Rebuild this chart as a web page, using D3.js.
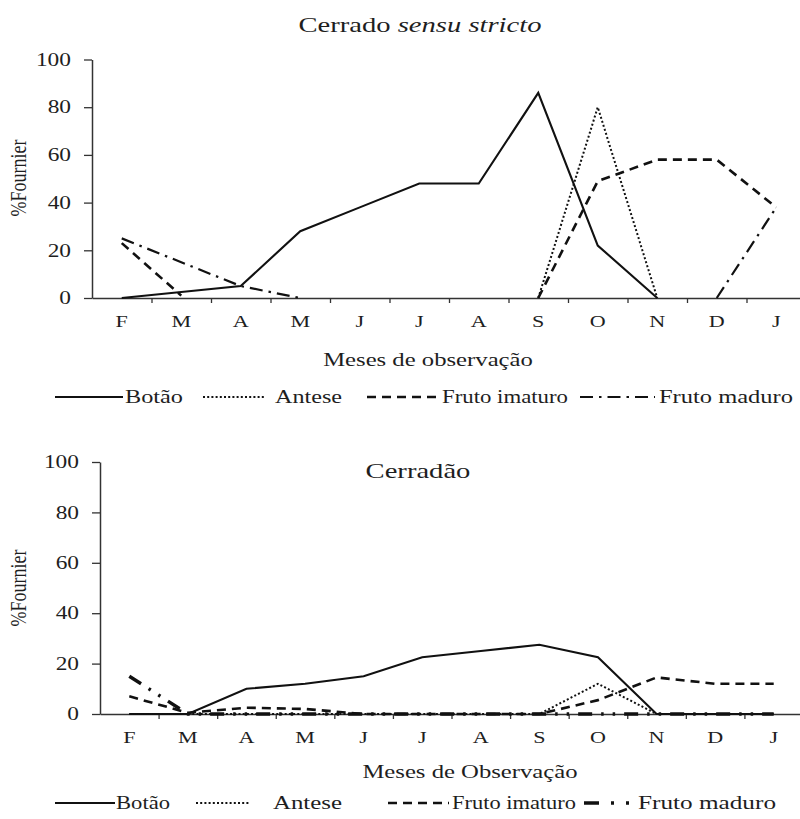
<!DOCTYPE html>
<html>
<head>
<meta charset="utf-8">
<script src="https://cdn.jsdelivr.net/npm/d3@7/dist/d3.min.js"></script>
<style>
  body { margin: 0; background: #fff; }
  text { font-family: "Liberation Serif", "Times New Roman", serif; fill: #1e1e1e; }
</style>
</head>
<body>
<svg id="chart" width="800" height="819"></svg>
<script>
// Months of observation (Feb → Jan)
const months = ["F", "M", "A", "M", "J", "J", "A", "S", "O", "N", "D", "J"];
const yTicks = [0, 20, 40, 60, 80, 100];

// Cerrado sensu stricto — % Fournier per phenophase (null = not plotted)
const ssBotao        = [0, 2.5, 5, 28, 38, 48, 48, 86, 22, 0, null, null];
const ssAntese       = [null, null, null, null, null, null, null, 0, 80, 0, null, null];
const ssFrutoImaturo = [23, 1, null, null, null, null, null, 0, 49, 58, 58, 38];
const ssFrutoMaduro  = [25, 15, 5, 0, null, null, null, null, null, null, 0, 38];

// Cerradão — % Fournier per phenophase
const cdBotao        = [0, 0, 10, 12, 15, 22.5, 25, 27.5, 22.5, 0, 0, 0];
const cdAntese       = [0, 0, 0, 0, 0, 0, 0, 0, 12, 0, 0, 0];
const cdFrutoImaturo = [7, 0.5, 2.5, 2, 0, 0, 0, 0, 5.5, 14.5, 12, 12];
const cdFrutoMaduro  = [15, 0, 0, 0, 0, 0, 0, 0, 0, 0, 0, 0];

const seriesNames = ["Botão", "Antese", "Fruto imaturo", "Fruto maduro"];

const svg = d3.select("#chart");

// the typeface is set wide: glyphs are widened horizontally about their anchor
const SX = 1.3;
function widen(sel) {
  sel.each(function () {
    const el = d3.select(this);
    const x = +el.attr("x") || 0;
    el.attr("transform", `translate(${x},0) scale(${SX},1) translate(${-x},0)`);
  });
}

// stroke styles per phenophase
const styles = {
  "Botão":         { w: 2.1, dash: null },
  "Antese":        { w: 2,   dash: "2,2.2" },
  "Fruto imaturo": { w: 2.6, dash: "9,6" },
  "Fruto maduro":  { w: 2.2, dash: "13,6,2.5,6" }
};
const maduroThick = { w: 3.4, dash: "14,9,2.5,9,2.5,9" };
const maduroThickKey = { w: 3.4, dash: "15,12,3,12,3" };

function panel(cfg) {
  const g = svg.append("g");
  const x = d3.scaleBand().domain(d3.range(months.length)).range([cfg.x0, cfg.x1]);
  const xb = d3.scaleLinear().domain([0, months.length]).range([cfg.x0, cfg.x1]);
  const y = d3.scaleLinear().domain([0, 100]).range([cfg.y0, cfg.y100]);

  // y axis
  const ya = g.append("g").attr("transform", `translate(${cfg.x0},0)`)
    .call(d3.axisLeft(y).tickValues(yTicks).tickSize(8).tickPadding(13).tickSizeOuter(0));
  ya.select(".domain").attr("stroke", "#333").attr("stroke-width", 1.5);
  ya.selectAll(".tick line").attr("stroke", "#333").attr("stroke-width", 1.3);
  ya.selectAll(".tick text").attr("font-size", 18).attr("font-family", "Liberation Serif").attr("fill", "#333")
    .call(widen);

  // x axis: ticks on month boundaries, labels centred in each month
  const xa = g.append("g").attr("transform", `translate(0,${cfg.y0})`)
    .call(d3.axisBottom(xb).tickValues(d3.range(1, months.length + 1)).tickSize(5).tickFormat("").tickSizeOuter(0));
  xa.select(".domain").attr("stroke", "#333").attr("stroke-width", 1.5);
  xa.selectAll(".tick line").attr("stroke", "#333").attr("stroke-width", 1.3);

  const xl = g.append("g").attr("transform", `translate(0,${cfg.y0})`)
    .call(d3.axisBottom(x).tickSize(0).tickPadding(cfg.labelPad).tickFormat(i => months[i]));
  xl.select(".domain").remove();
  xl.selectAll(".tick text").attr("font-size", 17).attr("font-family", "Liberation Serif").attr("fill", "#333")
    .call(widen);

  // lines
  const line = d3.line()
    .defined(d => d != null)
    .x((d, i) => x(i) + x.bandwidth() / 2)
    .y(d => y(d));
  cfg.series.forEach((vals, k) => {
    const st = (k === 3 && cfg.thickMaduro) ? maduroThick : styles[seriesNames[k]];
    const p = g.append("path")
      .datum(vals)
      .attr("fill", "none")
      .attr("stroke", "#111")
      .attr("stroke-width", st.w)
      .attr("stroke-linejoin", "miter")
      .attr("d", line);
    if (st.dash) p.attr("stroke-dasharray", st.dash);
  });

  // panel title
  const t = g.append("text").attr("x", cfg.titleX).attr("y", cfg.titleY)
    .attr("text-anchor", "middle").attr("font-size", 22);
  cfg.title.forEach(part => t.append("tspan").text(part.t).attr("font-style", part.i ? "italic" : "normal"));
  t.call(widen);

  // axis titles
  g.append("text")
    .attr("transform", `translate(${cfg.yTitleX},${cfg.yTitleY}) scale(${SX},1) rotate(-90)`)
    .attr("text-anchor", "middle").attr("font-size", 18).text("%Fournier");

  g.append("text").attr("x", cfg.xTitleX).attr("y", cfg.xTitleY)
    .attr("text-anchor", "middle").attr("font-size", 19).text(cfg.xTitle)
    .call(widen);

  // legend: key sample from a to b, label set into width w starting at tx
  const lg = g.append("g").attr("transform", `translate(0,${cfg.legendY})`);
  cfg.legend.forEach((it, k) => {
    const st = (k === 3 && cfg.thickMaduro) ? maduroThickKey : styles[seriesNames[k]];
    const l = lg.append("line").attr("x1", it.a).attr("x2", it.b).attr("y1", 0).attr("y2", 0)
      .attr("stroke", "#111").attr("stroke-width", st.w);
    if (st.dash) l.attr("stroke-dasharray", st.dash);
    lg.append("text").attr("x", it.tx).attr("y", 6).attr("font-size", 18)
      .attr("textLength", it.w).attr("lengthAdjust", "spacingAndGlyphs")
      .text(seriesNames[k]);
  });
}

panel({
  x0: 92, x1: 806, y0: 298, y100: 59.5, labelPad: 17,
  series: [ssBotao, ssAntese, ssFrutoImaturo, ssFrutoMaduro],
  title: [{ t: "Cerrado " }, { t: "sensu stricto", i: true }], titleX: 420, titleY: 32,
  yTitleX: 26, yTitleY: 178,
  xTitle: "Meses de observação", xTitleX: 428, xTitleY: 366,
  legendY: 397,
  legend: [
    { a: 55, b: 123, tx: 125, w: 58 },
    { a: 203, b: 265, tx: 275, w: 67 },
    { a: 367, b: 440, tx: 442, w: 126 },
    { a: 580, b: 655, tx: 659, w: 134 }
  ],
  thickMaduro: false
});

panel({
  x0: 100, x1: 803, y0: 714, y100: 462, labelPad: 17,
  series: [cdBotao, cdAntese, cdFrutoImaturo, cdFrutoMaduro],
  title: [{ t: "Cerradão" }], titleX: 418, titleY: 478,
  yTitleX: 26, yTitleY: 588,
  xTitle: "Meses de Observação", xTitleX: 470, xTitleY: 778,
  legendY: 803,
  legend: [
    { a: 55, b: 115, tx: 116, w: 54 },
    { a: 196, b: 249, tx: 273, w: 69 },
    { a: 388, b: 449, tx: 452, w: 124 },
    { a: 584, b: 633, tx: 638, w: 138 }
  ],
  thickMaduro: true
});
</script>
</body>
</html>
